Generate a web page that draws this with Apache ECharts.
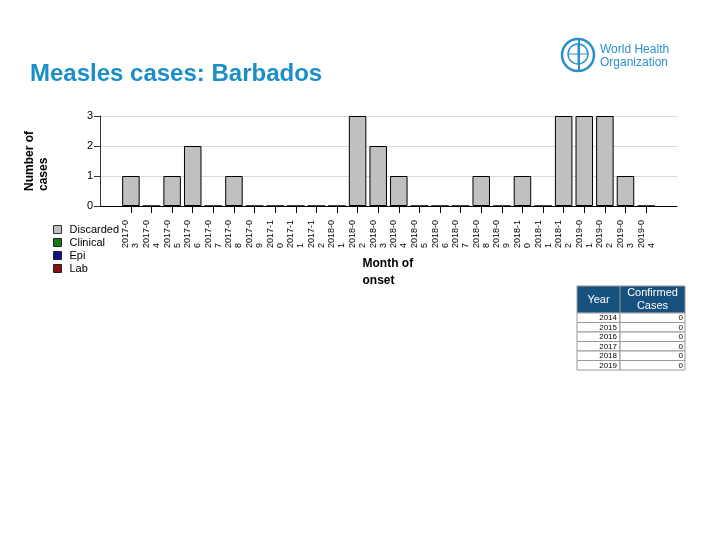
<!DOCTYPE html>
<html>
<head>
<meta charset="utf-8">
<script src="https://cdn.jsdelivr.net/npm/echarts@6/dist/echarts.min.js"></script>
<style>html,body{margin:0;padding:0;background:#fff}#c{width:720px;height:540px}</style>
</head>
<body>
<div id="c"></div>
<script>
// ---- data ----
const months = ['2017-03','2017-04','2017-05','2017-06','2017-07','2017-08','2017-09','2017-10','2017-11','2017-12',
  '2018-01','2018-02','2018-03','2018-04','2018-05','2018-06','2018-07','2018-08','2018-09','2018-10','2018-11','2018-12',
  '2019-01','2019-02','2019-03','2019-04'];
const discarded = [1,0,1,2,0,1,0,0,0,0,0,3,2,1,0,0,0,1,0,1,0,3,3,3,1,0];
const clinical  = [0,0,0,0,0,0,0,0,0,0,0,0,0,0,0,0,0,0,0,0,0,0,0,0,0,0];
const epi       = [0,0,0,0,0,0,0,0,0,0,0,0,0,0,0,0,0,0,0,0,0,0,0,0,0,0];
const lab       = [0,0,0,0,0,0,0,0,0,0,0,0,0,0,0,0,0,0,0,0,0,0,0,0,0,0];
const yTicks = [0,1,2,3];
const tableYears = ['2014','2015','2016','2017','2018','2019'];
const tableCases = [0,0,0,0,0,0];
const seriesNames = ['Discarded','Clinical','Epi','Lab'];
const seriesColors = ['#c0c0c0','#157a15','#10108a','#8a1212'];

// ---- build ----
const FONT = 'Liberation Sans, Arial, sans-serif';
const cats = [''].concat(months, ['']);
const pad = a => [null].concat(a, [null]);
const seriesData = [discarded, clinical, epi, lab];

const chart = echarts.init(document.getElementById('c'), null, {renderer:'canvas'});

const series = seriesNames.map((n,i) => ({
  name: n, type: 'bar', stack: 'all', data: pad(seriesData[i]),
  barCategoryGap: '15%',
  itemStyle: i === 0 ? {color: seriesColors[i], borderColor: '#000', borderWidth: 1}
                     : {color: seriesColors[i], borderWidth: 0},
  emphasis: {disabled: true}
}));

// table graphics
const tx0 = 577, tx1 = 620, tx2 = 685, ty0 = 286, tyH = 313, rowH = 9.5;
const g = [];
g.push({type:'rect', shape:{x:tx0,y:ty0,width:tx2-tx0,height:tyH-ty0}, style:{fill:'#17517e', stroke:'#999', lineWidth:1}});
g.push({type:'line', shape:{x1:tx1,y1:ty0,x2:tx1,y2:tyH}, style:{stroke:'#999', lineWidth:1}});
g.push({type:'text', x:(tx0+tx1)/2, y:(ty0+tyH)/2, style:{text:'Year', fill:'#fff', font:'11px '+FONT, textAlign:'center', textVerticalAlign:'middle'}});
g.push({type:'text', x:(tx1+tx2)/2, y:(ty0+tyH)/2, style:{text:'Confirmed\nCases', fill:'#fff', font:'11px '+FONT, textAlign:'center', textVerticalAlign:'middle', lineHeight:13}});
tableYears.forEach((yr,i) => {
  const y = tyH + i*rowH;
  g.push({type:'rect', shape:{x:tx0,y:y,width:tx1-tx0,height:rowH}, style:{fill:'#fff', stroke:'#999', lineWidth:1}});
  g.push({type:'rect', shape:{x:tx1,y:y,width:tx2-tx1,height:rowH}, style:{fill:'#fff', stroke:'#999', lineWidth:1}});
  g.push({type:'text', x:tx1-3, y:y+rowH/2+0.5, style:{text:yr, fill:'#000', font:'8px '+FONT, textAlign:'right', textVerticalAlign:'middle'}});
  g.push({type:'text', x:tx2-2, y:y+rowH/2+0.5, style:{text:String(tableCases[i]), fill:'#000', font:'8px '+FONT, textAlign:'right', textVerticalAlign:'middle'}});
});
// WHO logo
const lc = '#2b8fcf';
g.push({type:'circle', shape:{cx:578,cy:55,r:16}, style:{fill:'none', stroke:lc, lineWidth:2.5}});
g.push({type:'circle', shape:{cx:578,cy:54,r:10}, style:{fill:'none', stroke:lc, lineWidth:1.5}});
g.push({type:'line', shape:{x1:568,y1:54,x2:588,y2:54}, style:{stroke:lc, lineWidth:1}});
g.push({type:'line', shape:{x1:578,y1:44,x2:578,y2:64}, style:{stroke:lc, lineWidth:1}});
g.push({type:'line', shape:{x1:579,y1:38,x2:579,y2:70}, style:{stroke:lc, lineWidth:2}});
g.push({type:'text', x:600, y:50, style:{text:'World Health', fill:lc, font:'12px '+FONT, textVerticalAlign:'middle'}});
g.push({type:'text', x:600, y:63, style:{text:'Organization', fill:lc, font:'12px '+FONT, textVerticalAlign:'middle'}});

const option = {
  animation: false,
  backgroundColor: '#fff',
  textStyle: {fontFamily: FONT},
  title: {text: 'Measles cases: Barbados', left: 25, top: 57,
    textStyle: {fontFamily: FONT, fontSize: 24, fontWeight: 'bold', color: '#1b8ec8'}},
  grid: {left: 100, right: 43, top: 116, bottom: 334, containLabel: false},
  legend: {
    orient: 'vertical', left: 48, top: 218, itemWidth: 8, itemHeight: 8, itemGap: 0,
    icon: 'rect', selectedMode: false,
    textStyle: {fontFamily: FONT, fontSize: 11, color: '#000', lineHeight: 13, padding: [0,0,0,3]},
    data: seriesNames.map((n,i) => ({name: n, itemStyle: {color: seriesColors[i], borderColor: i===0 ? '#333' : '#222', borderWidth: 1}}))
  },
  xAxis: {
    type: 'category', data: cats,
    name: '{n|Month of}\n{n|onset}', nameLocation: 'middle', nameGap: 49,
    nameTextStyle: {rich: {n: {width: 52, align: 'left', fontSize: 12, fontWeight: 'bold', lineHeight: 17, color: '#000', fontFamily: FONT}}},
    axisLine: {show: true, lineStyle: {color: '#000', width: 1}},
    axisTick: {show: true, alignWithLabel: true, length: 7, lineStyle: {color: '#000'},
      interval: (idx, val) => val !== ''},
    axisLabel: {interval: 0, rotate: 90, margin: 14,
      formatter: v => v ? '{a|' + v.slice(0,6) + '}\n{a|' + v.slice(6) + '}' : '',
      rich: {a: {width: 28, align: 'left', fontSize: 9, lineHeight: 10, color: '#000', fontFamily: FONT}}},
    splitLine: {show: false}
  },
  yAxis: {
    type: 'value', min: yTicks[0], max: yTicks[yTicks.length-1], interval: 1,
    name: '{n|Number of}\n{n|cases}', nameLocation: 'middle', nameGap: 49,
    nameTextStyle: {rich: {n: {width: 60, align: 'left', fontSize: 12, fontWeight: 'bold', lineHeight: 14, color: '#000', fontFamily: FONT}}},
    axisLine: {show: true, lineStyle: {color: '#333', width: 1}},
    axisTick: {show: true, length: 6, lineStyle: {color: '#333'}},
    axisLabel: {fontSize: 11, color: '#000', margin: 7, fontFamily: FONT},
    splitLine: {show: true, lineStyle: {color: '#d9d9d9', width: 1}}
  },
  series: series,
  graphic: g
};
chart.setOption(option);
</script>
</body>
</html>
